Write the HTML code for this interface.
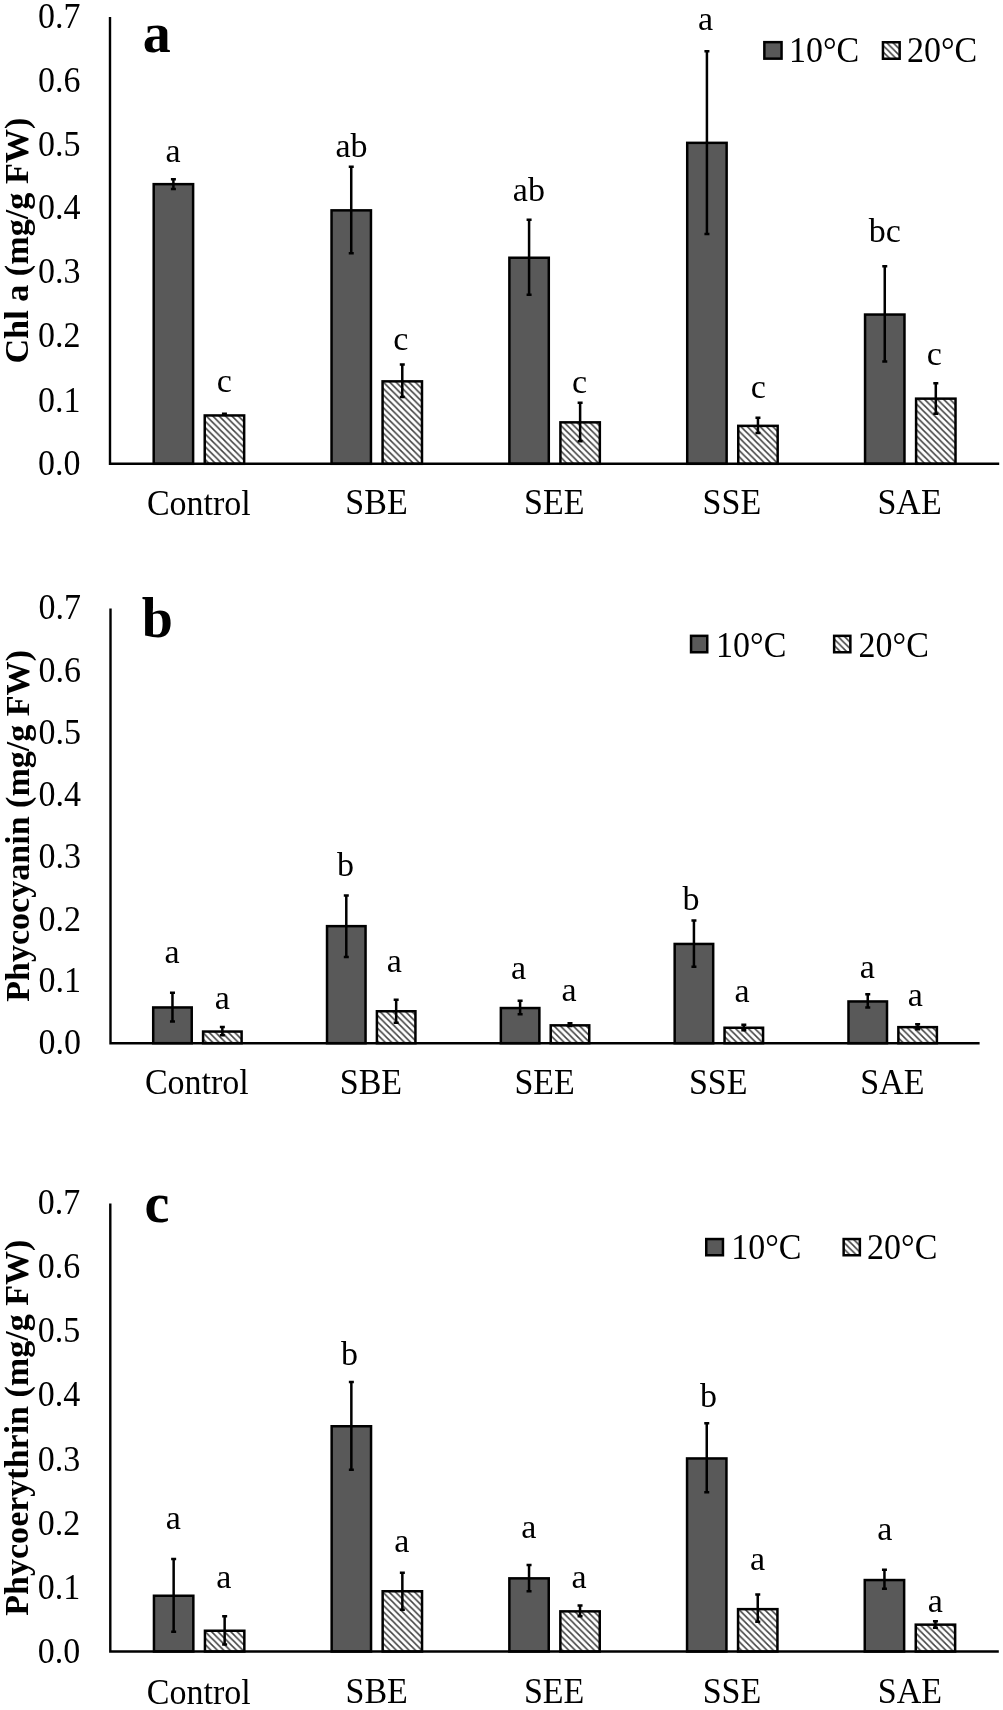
<!DOCTYPE html>
<html><head><meta charset="utf-8"><style>
html,body{margin:0;padding:0;background:#fff;}
svg{display:block;filter:grayscale(1);}
text{font-family:"Liberation Serif",serif;fill:#000;}
</style></head><body>
<svg width="1003" height="1710" viewBox="0 0 1003 1710">
<rect width="1003" height="1710" fill="#fff"/>
<defs><pattern id="hatch_a" patternUnits="userSpaceOnUse" x="1.19" y="0" width="6.39" height="6.39">
<rect width="6.39" height="6.39" fill="#fff"/>
<path d="M-6.39,0L6.39,12.78M0,-6.39L12.78,6.39M-6.39,-6.39L12.78,12.78" stroke="#404040" stroke-width="1.5"/>
</pattern><pattern id="hatch_b" patternUnits="userSpaceOnUse" x="1" y="0" width="6.39" height="6.39">
<rect width="6.39" height="6.39" fill="#fff"/>
<path d="M-6.39,0L6.39,12.78M0,-6.39L12.78,6.39M-6.39,-6.39L12.78,12.78" stroke="#404040" stroke-width="1.5"/>
</pattern><pattern id="hatch_c" patternUnits="userSpaceOnUse" x="4.83" y="0" width="6.39" height="6.39">
<rect width="6.39" height="6.39" fill="#fff"/>
<path d="M-6.39,0L6.39,12.78M0,-6.39L12.78,6.39M-6.39,-6.39L12.78,12.78" stroke="#404040" stroke-width="1.5"/>
</pattern><pattern id="hatch_la" patternUnits="userSpaceOnUse" x="0.52" y="0" width="6.39" height="6.39">
<rect width="6.39" height="6.39" fill="#fff"/>
<path d="M-6.39,0L6.39,12.78M0,-6.39L12.78,6.39M-6.39,-6.39L12.78,12.78" stroke="#404040" stroke-width="1.5"/>
</pattern><pattern id="hatch_lb" patternUnits="userSpaceOnUse" x="3.41" y="0" width="6.39" height="6.39">
<rect width="6.39" height="6.39" fill="#fff"/>
<path d="M-6.39,0L6.39,12.78M0,-6.39L12.78,6.39M-6.39,-6.39L12.78,12.78" stroke="#404040" stroke-width="1.5"/>
</pattern><pattern id="hatch_lc" patternUnits="userSpaceOnUse" x="3.98" y="0" width="6.39" height="6.39">
<rect width="6.39" height="6.39" fill="#fff"/>
<path d="M-6.39,0L6.39,12.78M0,-6.39L12.78,6.39M-6.39,-6.39L12.78,12.78" stroke="#404040" stroke-width="1.5"/>
</pattern></defs>
<rect x="764.35" y="42.15" width="17.2" height="16.5" fill="#595959" stroke="#000" stroke-width="2.5"/>
<rect x="882.95" y="42.25" width="16.7" height="16.5" fill="url(#hatch_la)" stroke="#000" stroke-width="2.5"/>
<rect x="153.7" y="184.15" width="39.41" height="279.65" fill="#595959" stroke="#000" stroke-width="2.5"/>
<path d="M173.4,179.25V189.05M170.9,179.25H175.9M170.9,189.05H175.9" stroke="#000" stroke-width="2.5" fill="none"/>
<rect x="204.74" y="415.45" width="39.41" height="48.35" fill="url(#hatch_a)" stroke="#000" stroke-width="2.5"/>
<path d="M224.44,413.75V414.75M221.94,413.75H226.94M221.94,414.75H226.94" stroke="#000" stroke-width="2.5" fill="none"/>
<rect x="331.54" y="210.35" width="39.41" height="253.45" fill="#595959" stroke="#000" stroke-width="2.5"/>
<path d="M351.24,166.65V253.15M348.74,166.65H353.74M348.74,253.15H353.74" stroke="#000" stroke-width="2.5" fill="none"/>
<rect x="382.58" y="381.35" width="39.41" height="82.45" fill="url(#hatch_a)" stroke="#000" stroke-width="2.5"/>
<path d="M402.28,364.45V397.05M399.78,364.45H404.78M399.78,397.05H404.78" stroke="#000" stroke-width="2.5" fill="none"/>
<rect x="509.38" y="257.75" width="39.41" height="206.05" fill="#595959" stroke="#000" stroke-width="2.5"/>
<path d="M529.08,219.85V294.75M526.58,219.85H531.58M526.58,294.75H531.58" stroke="#000" stroke-width="2.5" fill="none"/>
<rect x="560.42" y="422.35" width="39.41" height="41.45" fill="url(#hatch_a)" stroke="#000" stroke-width="2.5"/>
<path d="M580.12,402.75V441.35M577.62,402.75H582.62M577.62,441.35H582.62" stroke="#000" stroke-width="2.5" fill="none"/>
<rect x="687.22" y="142.85" width="39.41" height="320.95" fill="#595959" stroke="#000" stroke-width="2.5"/>
<path d="M706.92,51.25V233.95M704.42,51.25H709.42M704.42,233.95H709.42" stroke="#000" stroke-width="2.5" fill="none"/>
<rect x="738.26" y="425.85" width="39.41" height="37.95" fill="url(#hatch_a)" stroke="#000" stroke-width="2.5"/>
<path d="M757.96,417.75V433.05M755.46,417.75H760.46M755.46,433.05H760.46" stroke="#000" stroke-width="2.5" fill="none"/>
<rect x="865.06" y="314.55" width="39.41" height="149.25" fill="#595959" stroke="#000" stroke-width="2.5"/>
<path d="M884.76,266.35V361.55M882.26,266.35H887.26M882.26,361.55H887.26" stroke="#000" stroke-width="2.5" fill="none"/>
<rect x="916.1" y="398.65" width="39.41" height="65.15" fill="url(#hatch_a)" stroke="#000" stroke-width="2.5"/>
<path d="M935.8,383.15V413.65M933.3,383.15H938.3M933.3,413.65H938.3" stroke="#000" stroke-width="2.5" fill="none"/>
<path d="M110,17V463.8H999.2" stroke="#000" stroke-width="2.4" fill="none" stroke-linejoin="miter" stroke-linecap="butt"/>
<rect x="691.05" y="635.85" width="16.2" height="16.4" fill="#595959" stroke="#000" stroke-width="2.5"/>
<rect x="834.15" y="635.85" width="16.2" height="16.4" fill="url(#hatch_lb)" stroke="#000" stroke-width="2.5"/>
<rect x="153.21" y="1007.45" width="38.52" height="35.75" fill="#595959" stroke="#000" stroke-width="2.5"/>
<path d="M172.47,992.65V1021.45M169.97,992.65H174.97M169.97,1021.45H174.97" stroke="#000" stroke-width="2.5" fill="none"/>
<rect x="203.09" y="1031.55" width="38.52" height="11.65" fill="url(#hatch_b)" stroke="#000" stroke-width="2.5"/>
<path d="M222.35,1026.95V1035.25M219.85,1026.95H224.85M219.85,1035.25H224.85" stroke="#000" stroke-width="2.5" fill="none"/>
<rect x="327.03" y="926.15" width="38.52" height="117.05" fill="#595959" stroke="#000" stroke-width="2.5"/>
<path d="M346.29,895.45V956.95M343.79,895.45H348.79M343.79,956.95H348.79" stroke="#000" stroke-width="2.5" fill="none"/>
<rect x="376.91" y="1011.25" width="38.52" height="31.95" fill="url(#hatch_b)" stroke="#000" stroke-width="2.5"/>
<path d="M396.17,999.65V1022.65M393.67,999.65H398.67M393.67,1022.65H398.67" stroke="#000" stroke-width="2.5" fill="none"/>
<rect x="500.85" y="1008.05" width="38.52" height="35.15" fill="#595959" stroke="#000" stroke-width="2.5"/>
<path d="M520.11,1000.75V1014.35M517.61,1000.75H522.61M517.61,1014.35H522.61" stroke="#000" stroke-width="2.5" fill="none"/>
<rect x="550.73" y="1025.35" width="38.52" height="17.85" fill="url(#hatch_b)" stroke="#000" stroke-width="2.5"/>
<path d="M569.99,1023.25V1026.05M567.49,1023.25H572.49M567.49,1026.05H572.49" stroke="#000" stroke-width="2.5" fill="none"/>
<rect x="674.67" y="943.95" width="38.52" height="99.25" fill="#595959" stroke="#000" stroke-width="2.5"/>
<path d="M693.93,920.45V966.85M691.43,920.45H696.43M691.43,966.85H696.43" stroke="#000" stroke-width="2.5" fill="none"/>
<rect x="724.55" y="1027.75" width="38.52" height="15.45" fill="url(#hatch_b)" stroke="#000" stroke-width="2.5"/>
<path d="M743.81,1024.65V1030.25M741.31,1024.65H746.31M741.31,1030.25H746.31" stroke="#000" stroke-width="2.5" fill="none"/>
<rect x="848.49" y="1001.45" width="38.52" height="41.75" fill="#595959" stroke="#000" stroke-width="2.5"/>
<path d="M867.75,994.15V1007.55M865.25,994.15H870.25M865.25,1007.55H870.25" stroke="#000" stroke-width="2.5" fill="none"/>
<rect x="898.37" y="1027.15" width="38.52" height="16.05" fill="url(#hatch_b)" stroke="#000" stroke-width="2.5"/>
<path d="M917.63,1024.35V1029.35M915.13,1024.35H920.13M915.13,1029.35H920.13" stroke="#000" stroke-width="2.5" fill="none"/>
<path d="M110.5,608.5V1043.2H979.6" stroke="#000" stroke-width="2.4" fill="none" stroke-linejoin="miter" stroke-linecap="butt"/>
<rect x="706.25" y="1239.05" width="16.7" height="16.2" fill="#595959" stroke="#000" stroke-width="2.5"/>
<rect x="843.65" y="1239.05" width="16.2" height="16.2" fill="url(#hatch_lc)" stroke="#000" stroke-width="2.5"/>
<rect x="153.96" y="1595.75" width="39.38" height="55.75" fill="#595959" stroke="#000" stroke-width="2.5"/>
<path d="M173.65,1559.05V1631.75M171.15,1559.05H176.15M171.15,1631.75H176.15" stroke="#000" stroke-width="2.5" fill="none"/>
<rect x="204.96" y="1630.75" width="39.38" height="20.75" fill="url(#hatch_c)" stroke="#000" stroke-width="2.5"/>
<path d="M224.65,1616.15V1644.45M222.15,1616.15H227.15M222.15,1644.45H227.15" stroke="#000" stroke-width="2.5" fill="none"/>
<rect x="331.66" y="1426.25" width="39.38" height="225.25" fill="#595959" stroke="#000" stroke-width="2.5"/>
<path d="M351.35,1382.05V1469.85M348.85,1382.05H353.85M348.85,1469.85H353.85" stroke="#000" stroke-width="2.5" fill="none"/>
<rect x="382.66" y="1591.25" width="39.38" height="60.25" fill="url(#hatch_c)" stroke="#000" stroke-width="2.5"/>
<path d="M402.35,1572.85V1609.65M399.85,1572.85H404.85M399.85,1609.65H404.85" stroke="#000" stroke-width="2.5" fill="none"/>
<rect x="509.36" y="1578.35" width="39.38" height="73.15" fill="#595959" stroke="#000" stroke-width="2.5"/>
<path d="M529.05,1565.05V1591.35M526.55,1565.05H531.55M526.55,1591.35H531.55" stroke="#000" stroke-width="2.5" fill="none"/>
<rect x="560.36" y="1611.35" width="39.38" height="40.15" fill="url(#hatch_c)" stroke="#000" stroke-width="2.5"/>
<path d="M580.05,1605.45V1616.35M577.55,1605.45H582.55M577.55,1616.35H582.55" stroke="#000" stroke-width="2.5" fill="none"/>
<rect x="687.06" y="1458.45" width="39.38" height="193.05" fill="#595959" stroke="#000" stroke-width="2.5"/>
<path d="M706.75,1423.35V1492.25M704.25,1423.35H709.25M704.25,1492.25H709.25" stroke="#000" stroke-width="2.5" fill="none"/>
<rect x="738.06" y="1609.15" width="39.38" height="42.35" fill="url(#hatch_c)" stroke="#000" stroke-width="2.5"/>
<path d="M757.75,1594.45V1621.85M755.25,1594.45H760.25M755.25,1621.85H760.25" stroke="#000" stroke-width="2.5" fill="none"/>
<rect x="864.76" y="1580.05" width="39.38" height="71.45" fill="#595959" stroke="#000" stroke-width="2.5"/>
<path d="M884.45,1569.85V1588.65M881.95,1569.85H886.95M881.95,1588.65H886.95" stroke="#000" stroke-width="2.5" fill="none"/>
<rect x="915.76" y="1624.65" width="39.38" height="26.85" fill="url(#hatch_c)" stroke="#000" stroke-width="2.5"/>
<path d="M935.45,1621.35V1627.75M932.95,1621.35H937.95M932.95,1627.75H937.95" stroke="#000" stroke-width="2.5" fill="none"/>
<path d="M110.3,1203.5V1651.5H998.8" stroke="#000" stroke-width="2.4" fill="none" stroke-linejoin="miter" stroke-linecap="butt"/>
<text id="a_t0" transform="translate(80.4,475.29) scale(1.0,1.07)" x="0" y="0" font-size="34" text-anchor="end">0.0</text>
<text id="a_t1" transform="translate(80.4,411.57) scale(1.0,1.07)" x="0" y="0" font-size="34" text-anchor="end">0.1</text>
<text id="a_t2" transform="translate(80.4,346.86) scale(1.0,1.07)" x="0" y="0" font-size="34" text-anchor="end">0.2</text>
<text id="a_t3" transform="translate(80.4,283.15) scale(1.0,1.07)" x="0" y="0" font-size="34" text-anchor="end">0.3</text>
<text id="a_t4" transform="translate(80.4,219.44) scale(1.0,1.07)" x="0" y="0" font-size="34" text-anchor="end">0.4</text>
<text id="a_t5" transform="translate(80.4,155.72) scale(1.0,1.07)" x="0" y="0" font-size="34" text-anchor="end">0.5</text>
<text id="a_t6" transform="translate(80.4,92.01) scale(1.0,1.07)" x="0" y="0" font-size="34" text-anchor="end">0.6</text>
<text id="a_t7" transform="translate(80.4,28.29) scale(1.0,1.07)" x="0" y="0" font-size="34" text-anchor="end">0.7</text>
<text id="a_c0" transform="translate(198.84,514.8) scale(1.0,1.07)" x="0" y="0" font-size="34" text-anchor="middle">Control</text>
<text id="a_c1" transform="translate(376.52,514.3) scale(1.0,1.07)" x="0" y="0" font-size="34" text-anchor="middle">SBE</text>
<text id="a_c2" transform="translate(554.2,514.3) scale(1.0,1.07)" x="0" y="0" font-size="34" text-anchor="middle">SEE</text>
<text id="a_c3" transform="translate(731.88,514.3) scale(1.0,1.07)" x="0" y="0" font-size="34" text-anchor="middle">SSE</text>
<text id="a_c4" transform="translate(909.56,514.3) scale(1.0,1.07)" x="0" y="0" font-size="34" text-anchor="middle">SAE</text>
<text id="a_title" x="156.75" y="51.5" font-size="56" text-anchor="middle" font-weight="bold">a</text>
<text id="a_ytitle" transform="translate(27.69,240.6) rotate(-90)" x="0" y="0" font-size="34.2" text-anchor="middle" font-weight="bold">Chl a (mg/g FW)</text>
<text id="a_leg0" transform="translate(789,62.4) scale(1.0,1.07)" x="0" y="0" font-size="34" text-anchor="start">10°C</text>
<text id="a_leg1" transform="translate(907,62.4) scale(1.0,1.07)" x="0" y="0" font-size="34" text-anchor="start">20°C</text>
<text id="a_l00" x="173" y="161.8" font-size="34" text-anchor="middle">a</text>
<text id="a_l01" x="224.3" y="392.15" font-size="34" text-anchor="middle">c</text>
<text id="a_l10" x="351.5" y="157.05" font-size="34" text-anchor="middle">ab</text>
<text id="a_l11" x="400.7" y="349.8" font-size="34" text-anchor="middle">c</text>
<text id="a_l20" x="528.9" y="201.3" font-size="34" text-anchor="middle">ab</text>
<text id="a_l21" x="579.6" y="393.45" font-size="34" text-anchor="middle">c</text>
<text id="a_l30" x="705.5" y="30" font-size="34" text-anchor="middle">a</text>
<text id="a_l31" x="758.4" y="398.1" font-size="34" text-anchor="middle">c</text>
<text id="a_l40" x="884.8" y="242.2" font-size="34" text-anchor="middle">bc</text>
<text id="a_l41" x="934.3" y="364.95" font-size="34" text-anchor="middle">c</text>
<text id="b_t0" transform="translate(80.9,1054.09) scale(1.0,1.07)" x="0" y="0" font-size="34" text-anchor="end">0.0</text>
<text id="b_t1" transform="translate(80.9,991.83) scale(1.0,1.07)" x="0" y="0" font-size="34" text-anchor="end">0.1</text>
<text id="b_t2" transform="translate(80.9,930.58) scale(1.0,1.07)" x="0" y="0" font-size="34" text-anchor="end">0.2</text>
<text id="b_t3" transform="translate(80.9,868.32) scale(1.0,1.07)" x="0" y="0" font-size="34" text-anchor="end">0.3</text>
<text id="b_t4" transform="translate(80.9,806.06) scale(1.0,1.07)" x="0" y="0" font-size="34" text-anchor="end">0.4</text>
<text id="b_t5" transform="translate(80.9,743.8) scale(1.0,1.07)" x="0" y="0" font-size="34" text-anchor="end">0.5</text>
<text id="b_t6" transform="translate(80.9,681.55) scale(1.0,1.07)" x="0" y="0" font-size="34" text-anchor="end">0.6</text>
<text id="b_t7" transform="translate(80.9,619.29) scale(1.0,1.07)" x="0" y="0" font-size="34" text-anchor="end">0.7</text>
<text id="b_c0" transform="translate(196.82,1094.4) scale(1.0,1.07)" x="0" y="0" font-size="34" text-anchor="middle">Control</text>
<text id="b_c1" transform="translate(370.96,1093.9) scale(1.0,1.07)" x="0" y="0" font-size="34" text-anchor="middle">SBE</text>
<text id="b_c2" transform="translate(544.6,1093.9) scale(1.0,1.07)" x="0" y="0" font-size="34" text-anchor="middle">SEE</text>
<text id="b_c3" transform="translate(718.24,1093.9) scale(1.0,1.07)" x="0" y="0" font-size="34" text-anchor="middle">SSE</text>
<text id="b_c4" transform="translate(892.38,1093.9) scale(1.0,1.07)" x="0" y="0" font-size="34" text-anchor="middle">SAE</text>
<text id="b_title" x="157.45" y="637.2" font-size="56" text-anchor="middle" font-weight="bold">b</text>
<text id="b_ytitle" transform="translate(28.57,825.9) rotate(-90)" x="0" y="0" font-size="34.05" text-anchor="middle" font-weight="bold">Phycocyanin (mg/g FW)</text>
<text id="b_leg0" transform="translate(716.1,656.5) scale(1.0,1.07)" x="0" y="0" font-size="34" text-anchor="start">10°C</text>
<text id="b_leg1" transform="translate(858.6,656.5) scale(1.0,1.07)" x="0" y="0" font-size="34" text-anchor="start">20°C</text>
<text id="b_l00" x="172.1" y="963.05" font-size="34" text-anchor="middle">a</text>
<text id="b_l01" x="222.2" y="1009.4" font-size="34" text-anchor="middle">a</text>
<text id="b_l10" x="345.4" y="876.35" font-size="34" text-anchor="middle">b</text>
<text id="b_l11" x="394.3" y="971.5" font-size="34" text-anchor="middle">a</text>
<text id="b_l20" x="518.5" y="979.2" font-size="34" text-anchor="middle">a</text>
<text id="b_l21" x="569.1" y="1001.45" font-size="34" text-anchor="middle">a</text>
<text id="b_l30" x="691" y="909.95" font-size="34" text-anchor="middle">b</text>
<text id="b_l31" x="742" y="1001.65" font-size="34" text-anchor="middle">a</text>
<text id="b_l40" x="867.3" y="978.05" font-size="34" text-anchor="middle">a</text>
<text id="b_l41" x="915.4" y="1005.7" font-size="34" text-anchor="middle">a</text>
<text id="c_t0" transform="translate(80.3,1662.69) scale(1.0,1.07)" x="0" y="0" font-size="34" text-anchor="end">0.0</text>
<text id="c_t1" transform="translate(80.3,1598.63) scale(1.0,1.07)" x="0" y="0" font-size="34" text-anchor="end">0.1</text>
<text id="c_t2" transform="translate(80.3,1534.58) scale(1.0,1.07)" x="0" y="0" font-size="34" text-anchor="end">0.2</text>
<text id="c_t3" transform="translate(80.3,1470.52) scale(1.0,1.07)" x="0" y="0" font-size="34" text-anchor="end">0.3</text>
<text id="c_t4" transform="translate(80.3,1406.46) scale(1.0,1.07)" x="0" y="0" font-size="34" text-anchor="end">0.4</text>
<text id="c_t5" transform="translate(80.3,1342.4) scale(1.0,1.07)" x="0" y="0" font-size="34" text-anchor="end">0.5</text>
<text id="c_t6" transform="translate(80.3,1278.35) scale(1.0,1.07)" x="0" y="0" font-size="34" text-anchor="end">0.6</text>
<text id="c_t7" transform="translate(80.3,1214.29) scale(1.0,1.07)" x="0" y="0" font-size="34" text-anchor="end">0.7</text>
<text id="c_c0" transform="translate(198.8,1703.6) scale(1.0,1.07)" x="0" y="0" font-size="34" text-anchor="middle">Control</text>
<text id="c_c1" transform="translate(376.7,1703.1) scale(1.0,1.07)" x="0" y="0" font-size="34" text-anchor="middle">SBE</text>
<text id="c_c2" transform="translate(554.1,1703.1) scale(1.0,1.07)" x="0" y="0" font-size="34" text-anchor="middle">SEE</text>
<text id="c_c3" transform="translate(732,1703.1) scale(1.0,1.07)" x="0" y="0" font-size="34" text-anchor="middle">SSE</text>
<text id="c_c4" transform="translate(909.9,1703.1) scale(1.0,1.07)" x="0" y="0" font-size="34" text-anchor="middle">SAE</text>
<text id="c_title" x="156.95" y="1221.9" font-size="56" text-anchor="middle" font-weight="bold">c</text>
<text id="c_ytitle" transform="translate(28.37,1427.7) rotate(-90)" x="0" y="0" font-size="34.03" text-anchor="middle" font-weight="bold">Phycoerythrin (mg/g FW)</text>
<text id="c_leg0" transform="translate(731.2,1258.7) scale(1.0,1.07)" x="0" y="0" font-size="34" text-anchor="start">10°C</text>
<text id="c_leg1" transform="translate(867.1,1258.7) scale(1.0,1.07)" x="0" y="0" font-size="34" text-anchor="start">20°C</text>
<text id="c_l00" x="173.2" y="1528.65" font-size="34" text-anchor="middle">a</text>
<text id="c_l01" x="223.9" y="1588.25" font-size="34" text-anchor="middle">a</text>
<text id="c_l10" x="349.4" y="1365.3" font-size="34" text-anchor="middle">b</text>
<text id="c_l11" x="401.7" y="1552.05" font-size="34" text-anchor="middle">a</text>
<text id="c_l20" x="528.9" y="1537.65" font-size="34" text-anchor="middle">a</text>
<text id="c_l21" x="579.1" y="1587.8" font-size="34" text-anchor="middle">a</text>
<text id="c_l30" x="708.6" y="1406.5" font-size="34" text-anchor="middle">b</text>
<text id="c_l31" x="757.6" y="1569.85" font-size="34" text-anchor="middle">a</text>
<text id="c_l40" x="884.7" y="1540.25" font-size="34" text-anchor="middle">a</text>
<text id="c_l41" x="935.2" y="1612.25" font-size="34" text-anchor="middle">a</text>
</svg></body></html>
